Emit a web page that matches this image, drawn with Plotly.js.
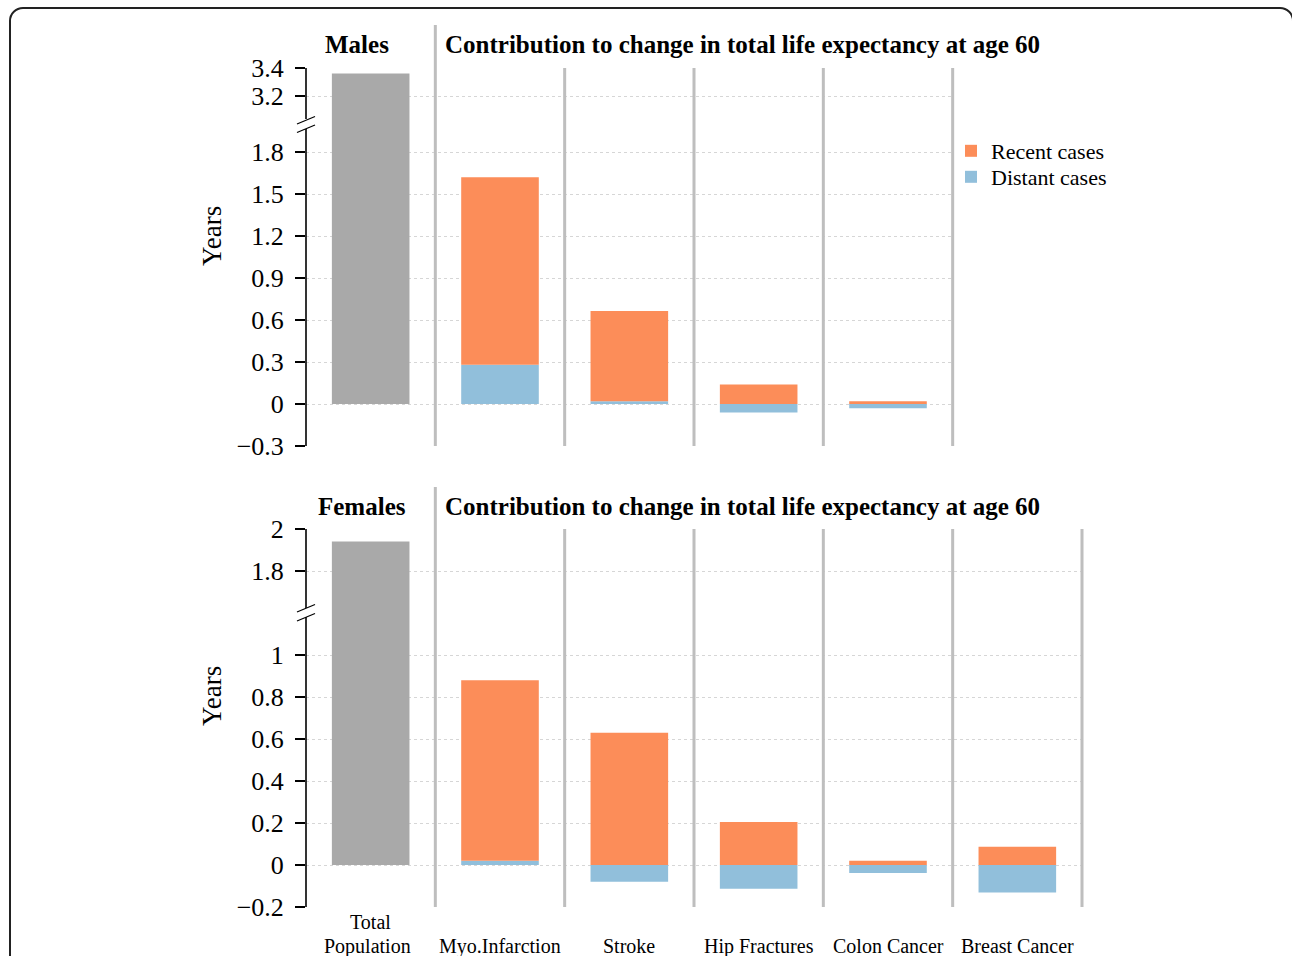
<!DOCTYPE html>
<html>
<head>
<meta charset="utf-8">
<script src="https://cdn.plot.ly/plotly-3.0.1.min.js"></script>
<style>
  html, body { margin: 0; padding: 0; background: #fff; }
  #wrap { position: relative; width: 1292px; height: 956px; overflow: hidden; }
  #chart { width: 1292px; height: 956px; }
  #frame { position: absolute; left: 9px; top: 7px; width: 1281px; height: 1000px;
           border: 2px solid #222; border-radius: 14px; pointer-events: none; }
</style>
</head>
<body>
<div id="wrap"><div id="chart"></div><div id="frame"></div></div>
<script>
// ---------- data ----------
const categories = ["Total Population", "Myo.Infarction", "Stroke", "Hip Fractures", "Colon Cancer", "Breast Cancer"];
const maleCategories = ["Myo.Infarction", "Stroke", "Hip Fractures", "Colon Cancer"];
const femaleCategories = ["Myo.Infarction", "Stroke", "Hip Fractures", "Colon Cancer", "Breast Cancer"];

const maleTotal = 3.36;
const maleRecent = [1.34, 0.645, 0.14, 0.02];
const maleDistant = [0.28, 0.02, -0.06, -0.03];

const femaleTotal = 1.94;
const femaleRecent = [0.86, 0.63, 0.205, 0.02, 0.087];
const femaleDistant = [0.02, -0.08, -0.113, -0.038, -0.131];

const maleTicks = [-0.3, 0, 0.3, 0.6, 0.9, 1.2, 1.5, 1.8, 3.2, 3.4];
const maleTickText = ["\u22120.3", "0", "0.3", "0.6", "0.9", "1.2", "1.5", "1.8", "3.2", "3.4"];
const femaleTicks = [-0.2, 0, 0.2, 0.4, 0.6, 0.8, 1, 1.8, 2];
const femaleTickText = ["\u22120.2", "0", "0.2", "0.4", "0.6", "0.8", "1", "1.8", "2"];

// broken-axis transforms (values above the break are shifted down by the gap)
const maleBreak = {at: 2.0, gap: 1.0};
const femaleBreak = {at: 1.2, gap: 0.4};
const tf = (b) => (v) => (v > b.at ? v - b.gap : v);
const tm = tf(maleBreak), tfm = tf(femaleBreak);

// ---------- styling ----------
const FONT = "Liberation Serif, Times New Roman, serif";
const ORANGE = "#FC8D59", BLUE = "#91BFDB", GREY = "#A9A9A9", SEP = "#BEBEBE";
const W = 1292, H = 956, L = 306, R = 210, T = 68, B = 49;
const PW = W - L - R, PH = H - T - B;
const px = (p) => (p - L) / PW;      // pixel x -> paper
const py = (p) => (H - B - p) / PH;  // pixel y -> paper
const bnd = (i) => (i + 1) / 6;      // boundary after category i -> paper
const ctr = (i) => (i + 0.5) / 6;    // centre of category i -> paper

const catIndex = (c) => categories.indexOf(c);

const traces = [
  {type: "bar", name: "Distant cases", x: maleCategories.map(catIndex), y: maleDistant,
   marker: {color: BLUE}, width: 0.6, xaxis: "x", yaxis: "y", legend: "legend2", hoverinfo: "skip"},
  {type: "bar", name: "Recent cases", x: maleCategories.map(catIndex), y: maleRecent,
   marker: {color: ORANGE}, width: 0.6, xaxis: "x", yaxis: "y", legend: "legend", hoverinfo: "skip"},
  {type: "bar", name: "Total", x: [catIndex("Total Population")], y: [tm(maleTotal)],
   marker: {color: GREY}, width: 0.6, xaxis: "x", yaxis: "y", showlegend: false, hoverinfo: "skip"},
  {type: "bar", name: "Distant cases", x: femaleCategories.map(catIndex), y: femaleDistant,
   marker: {color: BLUE}, width: 0.6, xaxis: "x2", yaxis: "y2", showlegend: false, hoverinfo: "skip"},
  {type: "bar", name: "Recent cases", x: femaleCategories.map(catIndex), y: femaleRecent,
   marker: {color: ORANGE}, width: 0.6, xaxis: "x2", yaxis: "y2", showlegend: false, hoverinfo: "skip"},
  {type: "bar", name: "Total", x: [catIndex("Total Population")], y: [tfm(femaleTotal)],
   marker: {color: GREY}, width: 0.6, xaxis: "x2", yaxis: "y2", showlegend: false, hoverinfo: "skip"}
];

const maleBottom = py(446), femaleTop = py(529);

const yCommon = {
  showline: false, zeroline: false, ticks: "outside", ticklen: 10, tickwidth: 1.5, tickcolor: "#000",
  showgrid: true, gridcolor: "#d6d6d6", gridwidth: 1, griddash: "3px,3px",
  tickfont: {family: FONT, size: 26, color: "#000"}, ticklabelstandoff: 6, fixedrange: true
};
const xCommon = {showline: false, zeroline: false, showgrid: false, showticklabels: false, ticks: "", fixedrange: true};

const shapes = [];
const line = (x0, y0, x1, y1, color, width) => shapes.push({type: "line", xref: "paper", yref: "paper",
  x0, y0, x1, y1, line: {color, width}, layer: "above"});

// separators
for (let i = 0; i < 5; i++) line(bnd(i), maleBottom, bnd(i), i === 0 ? py(25) : py(68), SEP, 3);
for (let i = 0; i < 6; i++) line(bnd(i), 0, bnd(i), i === 0 ? py(487) : py(529), SEP, 3);

// broken y-axis lines
const AX = px(306);
line(AX, py(446), AX, py(129), "#000", 1.6);
line(AX, py(119), AX, py(68), "#000", 1.6);
line(px(297), py(124), px(315), py(116.5), "#000", 1.2);
line(px(297), py(132.5), px(315), py(125), "#000", 1.2);
line(AX, py(907), AX, py(617), "#000", 1.6);
line(AX, py(608), AX, py(529), "#000", 1.6);
line(px(297), py(612), px(315), py(604.5), "#000", 1.2);
line(px(297), py(621), px(315), py(613.5), "#000", 1.2);

const ann = (text, x, y, opts) => Object.assign({text, x, y, xref: "paper", yref: "paper",
  xanchor: "center", yanchor: "middle", showarrow: false,
  font: {family: FONT, size: 20, color: "#000"}}, opts || {});
const TITLE = {family: FONT, size: 25, color: "#000"};

const annotations = [
  ann("<b>Males</b>", px(356.5), py(45), {font: TITLE}),
  ann("<b>Contribution to change in total life expectancy at age 60</b>", px(443), py(45),
      {xanchor: "left", font: TITLE}),
  ann("<b>Females</b>", px(362), py(506), {font: TITLE}),
  ann("<b>Contribution to change in total life expectancy at age 60</b>", px(443), py(506),
      {xanchor: "left", font: TITLE}),
  ann("Years", px(212), py(236), {textangle: -90, font: {family: FONT, size: 27, color: "#000"}}),
  ann("Years", px(212), py(696), {textangle: -90, font: {family: FONT, size: 27, color: "#000"}}),
  ann("Total", px(370), py(922)),
  ann("Population", px(367), py(946))
];
categories.slice(1).forEach((c, k) => annotations.push(ann(c, ctr(k + 1), py(946))));

const LEGFONT = {family: FONT, size: 22, color: "#000"};
const layout = {
  width: W, height: H,
  margin: {l: L, r: R, t: T, b: B, pad: 0},
  paper_bgcolor: "#fff", plot_bgcolor: "#fff",
  barmode: "relative", bargap: 0.4,
  showlegend: true,
  legend: {x: px(951), y: py(151), xanchor: "left", yanchor: "middle",
           font: LEGFONT, bgcolor: "rgba(0,0,0,0)"},
  legend2: {x: px(951), y: py(177), xanchor: "left", yanchor: "middle",
            font: LEGFONT, bgcolor: "rgba(0,0,0,0)"},
  xaxis: Object.assign({}, xCommon, {domain: [0, 5 / 6], range: [-0.5, 4.5], anchor: "y"}),
  yaxis: Object.assign({}, yCommon, {domain: [maleBottom, 1], range: [tm(-0.3), tm(3.4)], anchor: "x",
         tickmode: "array", tickvals: maleTicks.map(tm), ticktext: maleTickText}),
  xaxis2: Object.assign({}, xCommon, {domain: [0, 1], range: [-0.5, 5.5], anchor: "y2"}),
  yaxis2: Object.assign({}, yCommon, {domain: [0, femaleTop], range: [tfm(-0.2), tfm(2)], anchor: "x2",
         tickmode: "array", tickvals: femaleTicks.map(tfm), ticktext: femaleTickText}),
  shapes, annotations,
  font: {family: FONT, color: "#000"}
};

Plotly.newPlot("chart", traces, layout, {displayModeBar: false, staticPlot: true});
</script>
</body>
</html>
